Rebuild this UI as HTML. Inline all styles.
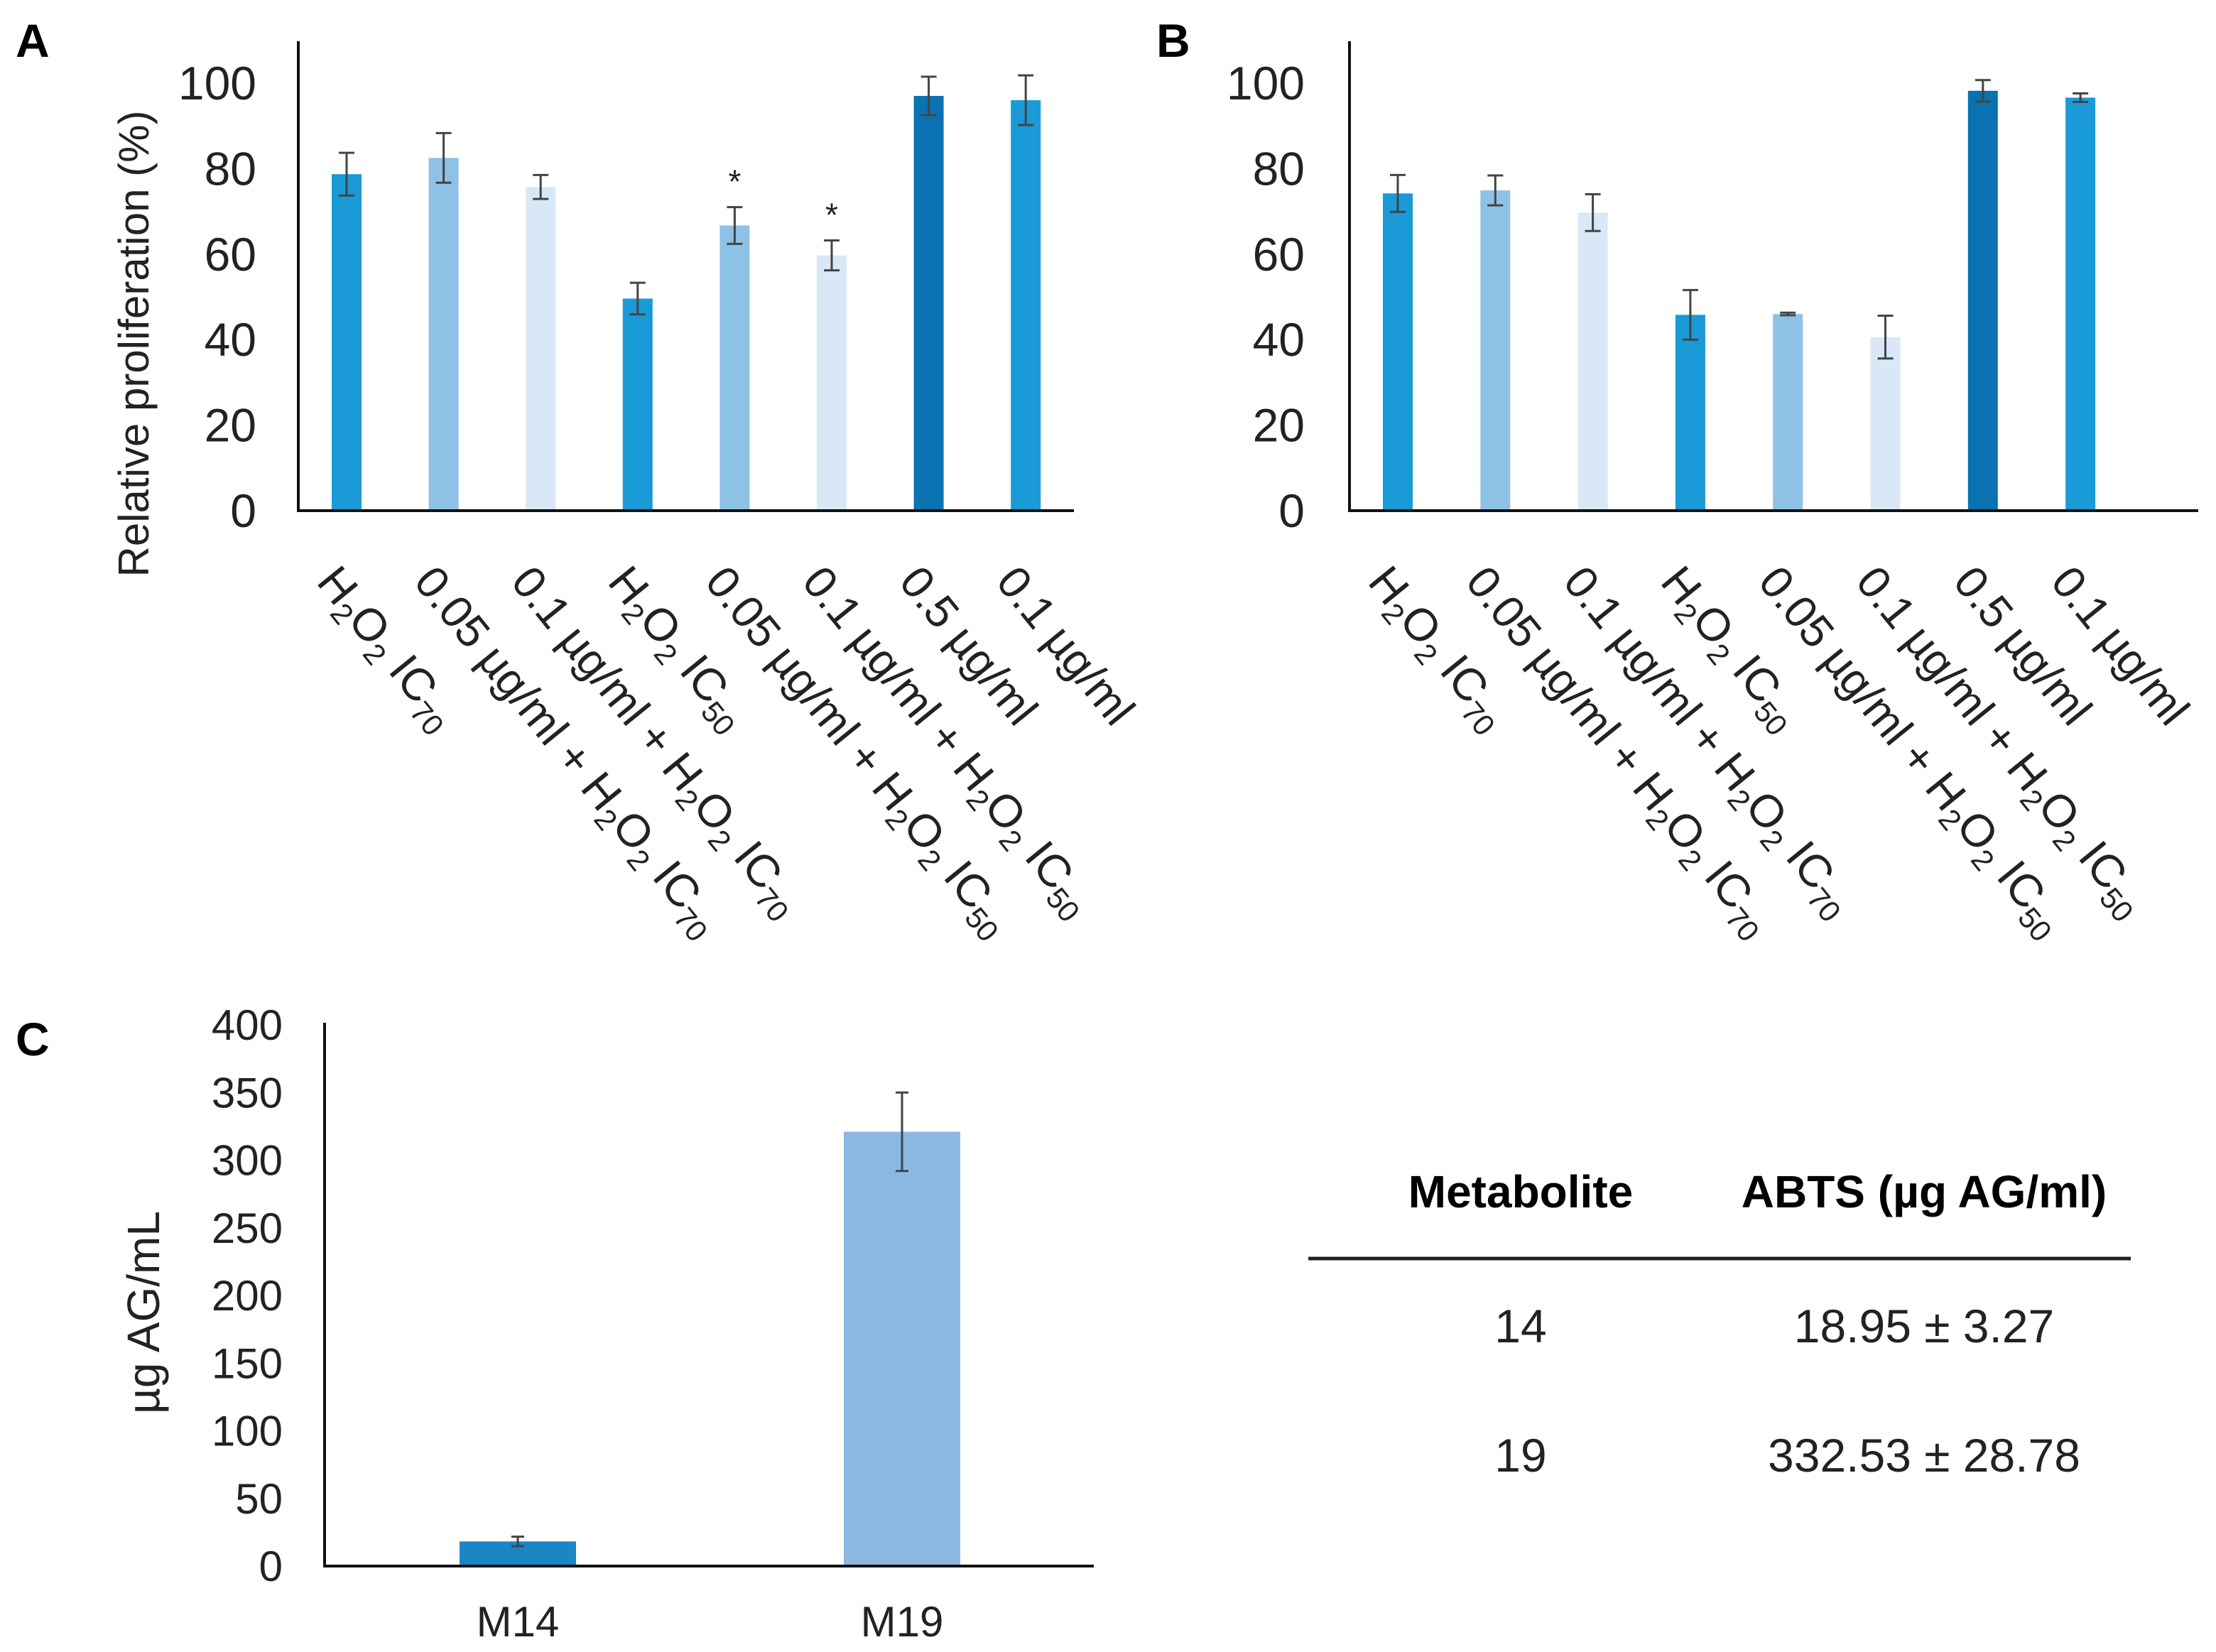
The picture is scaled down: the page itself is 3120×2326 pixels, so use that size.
<!DOCTYPE html>
<html><head><meta charset="utf-8"><style>
html,body{margin:0;padding:0;background:#fff;}
svg{display:block;font-family:"Liberation Sans",sans-serif;}
</style></head><body>
<svg id="fig" width="3120" height="2326" viewBox="0 0 3120 2326" xmlns="http://www.w3.org/2000/svg">
<text x="22" y="80" font-size="66" font-weight="bold">A</text>
<text x="1628" y="80" font-size="66" font-weight="bold">B</text>
<text x="22" y="1486" font-size="66" font-weight="bold">C</text>
<text transform="translate(209,484) rotate(-90)" text-anchor="middle" font-size="60" fill="#222">Relative proliferation (%)</text>
<text transform="translate(224,1848) rotate(-90)" text-anchor="middle" font-size="64" fill="#222">µg AG/mL</text>
<g id="table">
<text x="2141" y="1700" text-anchor="middle" font-size="64" font-weight="bold">Metabolite</text>
<text x="2709" y="1700" text-anchor="middle" font-size="64" font-weight="bold">ABTS (µg AG/ml)</text>
<line x1="1842" y1="1772" x2="3000" y2="1772" stroke="#222" stroke-width="5"/>
<text x="2141" y="1890" text-anchor="middle" font-size="66" fill="#222">14</text>
<text x="2709" y="1890" text-anchor="middle" font-size="66" fill="#222">18.95 ± 3.27</text>
<text x="2141" y="2072" text-anchor="middle" font-size="66" fill="#222">19</text>
<text x="2709" y="2072" text-anchor="middle" font-size="66" fill="#222">332.53 ± 28.78</text>
</g>
</svg>
<script>
const valuesA = [78.7, 82.5, 75.7, 49.6, 66.7, 59.7, 97, 96];
const errorsA = [5, 5.8, 2.8, 3.7, 4.3, 3.5, 4.5, 5.8];
const starsA = [false, false, false, false, true, true, false, false];
const valuesB = [74.2, 74.9, 69.7, 45.8, 46, 40.6, 98.2, 96.6];
const errorsB = [4.3, 3.5, 4.3, 5.8, 0.3, 5, 2.5, 1];
const ticksAB = [0, 20, 40, 60, 80, 100];
const categoriesC = ["M14", "M19"];
const valuesC = [18.2, 321];
const errorsC = [3.5, 29];
const ticksC = [0, 50, 100, 150, 200, 250, 300, 350, 400];
const labelsAB = [
 [["H",0],["2",1],["O",0],["2",1],[" IC",0],["70",1]],
 [["0.05 µg/ml + H",0],["2",1],["O",0],["2",1],[" IC",0],["70",1]],
 [["0.1 µg/ml + H",0],["2",1],["O",0],["2",1],[" IC",0],["70",1]],
 [["H",0],["2",1],["O",0],["2",1],[" IC",0],["50",1]],
 [["0.05 µg/ml + H",0],["2",1],["O",0],["2",1],[" IC",0],["50",1]],
 [["0.1 µg/ml + H",0],["2",1],["O",0],["2",1],[" IC",0],["50",1]],
 [["0.5 µg/ml",0]],
 [["0.1 µg/ml",0]]
];
const colorsAB = ["#1a9ad6","#8ec1e6","#d9e8f6","#1a9ad6","#8ec1e6","#d9e8f6","#0a72b0","#1a9ad6"];

const NS = "http://www.w3.org/2000/svg";
const svg = document.getElementById("fig");
function mk(tag, attrs, parent) {
  const e = document.createElementNS(NS, tag);
  for (const k in attrs) e.setAttribute(k, attrs[k]);
  (parent || svg).appendChild(e);
  return e;
}

function panelAB(p, vals, errs, stars, cfg) {
  const g = mk("g", {});
  
  
  const y = v => cfg.y0 - (v / 100) * (cfg.y0 - cfg.y100);
  const x = i => cfg.x0 + i * cfg.step;
  ticksAB.forEach(t => {
    const tx = mk("text", {x: cfg.tickRight, y: y(t) + 23, "text-anchor": "end", "font-size": 66, fill: "#222"}, g);
    tx.textContent = t;
    
    
  });
  vals.forEach((v, i) => {
    const r = mk("rect", {x: x(i) - 21, y: y(v), width: 42, height: y(0) - y(v), fill: colorsAB[i]}, g);
    
    
    const e = errs[i];
    const eg = mk("g", {stroke: "#444", "stroke-width": 3}, g);
    
    
    mk("line", {x1: x(i), x2: x(i), y1: y(v + e), y2: y(v - e)}, eg);
    mk("line", {x1: x(i) - 11, x2: x(i) + 11, y1: y(v + e), y2: y(v + e)}, eg);
    mk("line", {x1: x(i) - 11, x2: x(i) + 11, y1: y(v - e), y2: y(v - e)}, eg);
    if (stars && stars[i]) {
      const s = mk("text", {x: x(i), y: y(v + e) - 20, "text-anchor": "middle", "font-size": 46, fill: "#222"}, g);
      s.textContent = "*";
      
      
    }
    const lt = mk("text", {transform: "translate(" + (x(i) - 44) + "," + 820 + ") rotate(51)", "font-size": 64, fill: "#222"}, g);
    
    
    let prevSub = false;
    labelsAB[i].forEach(([t, sub]) => {
      const ts = mk("tspan", sub ? {"font-size": 42, dy: 13} : {dy: prevSub ? -13 : 0}, lt);
      ts.textContent = t;
      prevSub = !!sub;
    });
  });
  const ax = mk("path", {d: "M" + cfg.axisX + " " + cfg.top + " V" + cfg.y0 + " H" + cfg.axisEnd, fill: "none", stroke: "#111", "stroke-width": 4}, g);
  
  
}
panelAB("a", valuesA, errorsA, starsA, {y0: 719, y100: 117, x0: 488, step: 136.6, tickRight: 361, axisX: 420, axisEnd: 1512, top: 58});
panelAB("b", valuesB, errorsB, null, {y0: 719, y100: 117, x0: 1968, step: 137.3, tickRight: 1837, axisX: 1900, axisEnd: 3095, top: 58});

(function () {
  const g = mk("g", {});
  
  
  const y0 = 2205, y400 = 1443;
  const y = v => y0 - (v / 400) * (y0 - y400);
  const xs = i => 729 + i * 541;
  const cols = ["#1a86c6", "#8ab8e2"];
  ticksC.forEach(t => {
    const tx = mk("text", {x: 398, y: y(t) + 21, "text-anchor": "end", "font-size": 60, fill: "#222"}, g);
    tx.textContent = t;
    
    
  });
  valuesC.forEach((v, i) => {
    const r = mk("rect", {x: xs(i) - 82, y: y(v), width: 164, height: y(0) - y(v), fill: cols[i]}, g);
    
    
    const e = errorsC[i];
    const eg = mk("g", {stroke: "#444", "stroke-width": 3}, g);
    
    
    mk("line", {x1: xs(i), x2: xs(i), y1: y(v + e), y2: y(v - e)}, eg);
    mk("line", {x1: xs(i) - 9, x2: xs(i) + 9, y1: y(v + e), y2: y(v + e)}, eg);
    mk("line", {x1: xs(i) - 9, x2: xs(i) + 9, y1: y(v - e), y2: y(v - e)}, eg);
    const lt = mk("text", {x: xs(i), y: 2304, "text-anchor": "middle", "font-size": 60, fill: "#222"}, g);
    lt.textContent = categoriesC[i];
    
    
  });
  const ax = mk("path", {d: "M457 1440 V" + y0 + " H1540", fill: "none", stroke: "#111", "stroke-width": 4}, g);
  
  
})();
</script>
</body></html>
